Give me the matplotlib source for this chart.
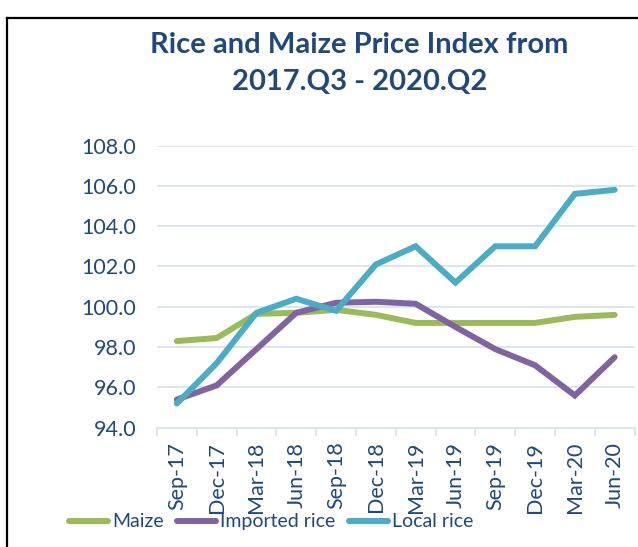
import matplotlib
matplotlib.use('Agg')
import matplotlib.pyplot as plt
from matplotlib.lines import Line2D
import numpy as np

# quarterly price index values
quarters = ["Sep-17", "Dec-17", "Mar-18", "Jun-18", "Sep-18", "Dec-18",
            "Mar-19", "Jun-19", "Sep-19", "Dec-19", "Mar-20", "Jun-20"]
maize = [98.3, 98.45, 99.65, 99.7, 99.85, 99.6, 99.2, 99.2, 99.2, 99.2, 99.5, 99.6]
imported_rice = [95.4, 96.1, 97.9, 99.7, 100.2, 100.25, 100.15, 99.0, 97.9, 97.1, 95.6, 97.5]
local_rice = [95.2, 97.2, 99.7, 100.4, 99.8, 102.1, 103.0, 101.2, 103.0, 103.0, 105.6, 105.8]

plt.rcParams['font.family'] = ['Lato', 'DejaVu Sans']
navy = '#1F497D'
grid_col = '#D9E3F1'

fig = plt.figure(figsize=(6.38, 5.47), dpi=100)
ax = fig.add_axes([0.246, 0.218, 0.7486, 0.516])

x = np.arange(len(quarters))
series = [("Maize", maize, '#9BBB59'),
          ("Imported rice", imported_rice, '#8064A2'),
          ("Local rice", local_rice, '#4BACC6')]
for name, vals, col in series:
    ax.plot(x, vals, color=col, lw=4.3, label=name,
            solid_capstyle='round', solid_joinstyle='miter')

ax.set_xlim(-0.5, len(quarters) - 0.5)
ax.set_ylim(94, 108)
ax.set_yticks(np.arange(94, 108.1, 2))
ax.set_yticklabels([f"{v:.1f}" for v in np.arange(94, 108.1, 2)])
ax.yaxis.grid(True, color=grid_col, lw=1.3)
ax.set_axisbelow(True)

for s in ['top', 'right', 'left']:
    ax.spines[s].set_visible(False)
ax.spines['bottom'].set_color(grid_col)
ax.spines['bottom'].set_linewidth(1.3)

# category labels at centres, tick marks on boundaries
ax.set_xticks(x)
ax.set_xticklabels(quarters, rotation=90, fontsize=15.5, color=navy)
ax.tick_params(axis='x', length=0, pad=10)
ax.set_xticks(np.arange(-0.5, len(quarters)), minor=True)
ax.tick_params(axis='x', which='minor', length=6, color=grid_col, width=1.3)
ax.tick_params(axis='y', length=0, labelsize=15.5, labelcolor=navy, pad=15)

fig.text(0.563, 0.918, "Rice and Maize Price Index from", ha='center', va='center',
         fontsize=21, fontweight='bold', color=navy)
fig.text(0.563, 0.850, "2017.Q3 - 2020.Q2", ha='center', va='center',
         fontsize=21, fontweight='bold', color=navy)

fig.legend(loc='center', bbox_to_anchor=(0.425, 0.046), ncol=3, frameon=False,
           fontsize=14, labelcolor=navy, handlelength=2.0, handletextpad=0.2,
           columnspacing=0.7)

# frame of the surrounding figure box
fig.add_artist(Line2D([0.011, 0.011], [0.0, 0.967], color='black', lw=1.6))
fig.add_artist(Line2D([0.011, 1.0], [0.967, 0.967], color='black', lw=1.6))

fig.savefig('out.png', dpi=100)
